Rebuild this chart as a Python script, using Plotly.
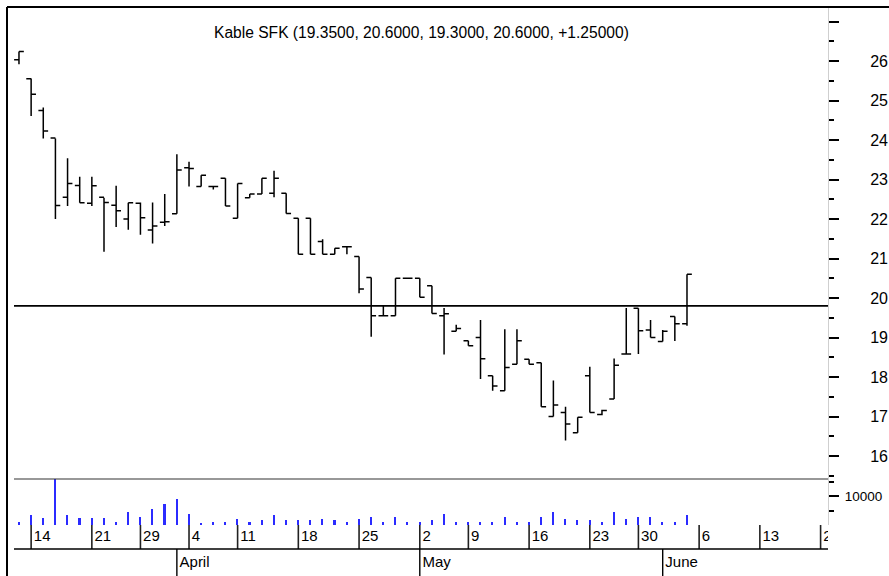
import plotly.graph_objects as go

# ---------------- data ----------------
bar_index = list(range(56))  # trading days 11 Mar .. 3 Jun
open_ = [26.03, 25.55, 24.75, 24.05, 22.55, 22.85, 22.40, 22.55, 22.35, 22.00,
         22.40, 21.72, 21.92, 22.13, 23.30, 22.82, 22.82, 23.03, 22.02, 22.54,
         22.63, 22.65, 22.65, 22.02, 22.02, 21.43, 21.11, 21.30, 21.05, 20.52,
         19.55, 19.55, 20.50, 20.50, 20.31, 19.55, 19.16, 18.92, 19.00, 18.03,
         17.65, 18.32, 18.45, 18.36, 17.00, 17.10, 16.59, 18.03, 17.05, 17.44,
         18.58, 19.74, 19.19, 18.90, 19.53, 19.35]
high = [26.24, 25.56, 24.82, 24.04, 23.54, 23.07, 23.07, 22.54, 22.84, 22.41,
        22.42, 22.42, 22.63, 23.64, 23.45, 23.11, 22.82, 23.03, 22.90, 22.63,
        23.03, 23.22, 22.65, 22.02, 22.02, 21.49, 21.26, 21.30, 21.05, 20.52,
        19.82, 20.50, 20.50, 20.50, 20.31, 19.75, 19.32, 18.92, 19.44, 18.03,
        19.21, 19.21, 18.45, 18.36, 17.91, 17.25, 16.98, 18.26, 17.17, 18.47,
        19.75, 19.74, 19.44, 19.19, 19.53, 20.60]
low = [25.92, 24.61, 24.04, 22.00, 22.33, 22.41, 22.33, 21.17, 21.80, 21.73,
       21.60, 21.38, 21.82, 22.13, 22.82, 22.82, 22.75, 22.33, 22.02, 22.54,
       22.63, 22.55, 22.14, 21.11, 21.11, 21.11, 21.11, 21.11, 20.12, 19.02,
       19.55, 19.55, 20.50, 20.02, 19.61, 18.57, 19.16, 18.79, 17.95, 17.65,
       17.65, 18.32, 18.32, 17.25, 17.00, 16.39, 16.59, 17.10, 17.03, 17.44,
       18.58, 18.58, 19.00, 18.90, 18.91, 19.30]
close = [26.24, 25.16, 24.23, 22.34, 22.90, 22.41, 22.84, 22.42, 22.21, 22.41,
         22.03, 21.82, 21.93, 23.24, 23.28, 23.11, 22.82, 22.33, 22.90, 22.63,
         23.03, 23.03, 22.14, 21.11, 21.11, 21.11, 21.26, 21.30, 20.23, 19.55,
         19.55, 20.50, 20.50, 20.02, 19.61, 19.60, 19.23, 18.79, 18.46, 17.77,
         18.24, 18.92, 18.32, 17.25, 17.29, 16.81, 16.98, 17.10, 17.15, 18.30,
         18.58, 19.17, 19.00, 19.16, 19.35, 20.60]
volume = [1200, 3300, 2300, 15700, 3300, 2300, 2300, 2300, 1200, 4500,
          2600, 5500, 7200, 8800, 3800, 600, 1200, 1200, 2200, 1200,
          1700, 3300, 1700, 1700, 1700, 2200, 1700, 1200, 2200, 2600,
          1200, 2600, 1200, 1200, 1700, 3800, 1200, 1200, 1200, 1200,
          2600, 1200, 1200, 2600, 4500, 2200, 1700, 1700, 1200, 4500,
          2200, 2600, 2600, 1200, 1200, 3300]
ref_level = 19.8

day_tick_idx = [1, 6, 10, 14, 18, 23, 28, 33, 37, 42, 47, 51, 56, 61, 66]
day_tick_labels = ["14", "21", "29", "4", "11", "18", "25", "2", "9", "16",
                   "23", "30", "6", "13", "20"]
month_tick_idx = [13, 33, 53]
month_labels = ["April", "May", "June"]

price_tickvals = [16, 17, 18, 19, 20, 21, 22, 23, 24, 25, 26, 27]
price_ticktext = ["16", "17", "18", "19", "20", "21", "22", "23", "24", "25", "26", ""]
price_minor = [15.5, 16.5, 17.5, 18.5, 19.5, 20.5, 21.5, 22.5, 23.5, 24.5, 25.5, 26.5]
vol_tickvals = [10000]
vol_minor = [5000, 15000]

title_text = "Kable SFK (19.3500, 20.6000, 19.3000, 20.6000, +1.25000)"

# ---------------- geometry ----------------
W, H = 889, 576
ML, MR = 14, 61
PW = W - ML - MR
def py(p):  # pixel row -> paper y
    return 1 - p / H
def px(p):  # pixel column -> paper x
    return (p - ML) / PW

FONT = "Liberation Sans, Arial, sans-serif"
LABEL_PAD = 0.22  # gap between a date tick line and its label, in bar units

fig = go.Figure()

fig.add_trace(go.Ohlc(
    x=bar_index, open=open_, high=high, low=low, close=close,
    increasing=dict(line=dict(color="black", width=1.5)),
    decreasing=dict(line=dict(color="black", width=1.5)),
    tickwidth=0.4, xaxis="x", yaxis="y", hoverinfo="skip"))

fig.add_trace(go.Bar(
    x=bar_index, y=volume, width=0.13,
    marker=dict(color="#2b2bff", line=dict(width=0)),
    xaxis="x", yaxis="y2", hoverinfo="skip"))

# date band: tick lines
dx, dy = [], []
for i in day_tick_idx:
    dx += [i, i, None]
    dy += [51, 27, None]
fig.add_trace(go.Scatter(x=dx, y=dy, mode="lines", line=dict(color="#222", width=1.6),
                         xaxis="x", yaxis="y3", hoverinfo="skip"))
mx, my = [], []
for i in month_tick_idx:
    mx += [i, i, None]
    my += [27, 0, None]
fig.add_trace(go.Scatter(x=mx, y=my, mode="lines", line=dict(color="black", width=1.4),
                         xaxis="x", yaxis="y3", hoverinfo="skip"))
fig.add_trace(go.Scatter(x=[i + LABEL_PAD for i in day_tick_idx], y=[39] * len(day_tick_idx),
                         mode="text", text=day_tick_labels, textposition="middle right",
                         textfont=dict(family=FONT, size=15, color="black"),
                         cliponaxis=True, xaxis="x", yaxis="y3", hoverinfo="skip"))
fig.add_trace(go.Scatter(x=[i + LABEL_PAD for i in month_tick_idx], y=[13] * len(month_tick_idx),
                         mode="text", text=month_labels, textposition="middle right",
                         textfont=dict(family=FONT, size=15, color="black"),
                         cliponaxis=True, xaxis="x", yaxis="y3", hoverinfo="skip"))

# price axis mapping: 26 at px 61, 39.5 px per unit
top_px, sep_px, base_px = 8, 479, 525
p_top = 26 + (61 - top_px) / 39.5
p_bot = 26 - (sep_px - 61) / 39.5
v_top = (base_px - sep_px) / 0.0029

shapes = [
    dict(type="line", xref="paper", yref="y", x0=0, x1=1, y0=ref_level, y1=ref_level,
         line=dict(color="black", width=1.8)),
    dict(type="line", xref="paper", yref="paper", x0=0, x1=1, y0=py(sep_px), y1=py(sep_px),
         line=dict(color="#333", width=1.2)),
    dict(type="line", xref="paper", yref="paper", x0=0, x1=1, y0=py(549), y1=py(549),
         line=dict(color="black", width=1.6)),
    dict(type="line", xref="paper", yref="paper", x0=px(7), x1=px(7), y0=0, y1=py(7),
         line=dict(color="black", width=2)),
    dict(type="line", xref="paper", yref="paper", x0=px(7), x1=px(W), y0=py(7), y1=py(7),
         line=dict(color="black", width=2)),
]

fig.update_layout(
    width=W, height=H, autosize=False,
    margin=dict(l=ML, r=MR, t=0, b=0, pad=0),
    paper_bgcolor="white", plot_bgcolor="white",
    showlegend=False, bargap=0,
    font=dict(family=FONT, size=15, color="black"),
    xaxis=dict(domain=[0, 1], range=[-0.41, 66.61], anchor="y3",
               showticklabels=False, ticks="", showgrid=False, zeroline=False,
               showline=False, rangeslider=dict(visible=False), fixedrange=True),
    yaxis=dict(domain=[py(sep_px), py(top_px)], range=[p_bot, p_top], anchor="x",
               side="right", showgrid=False, zeroline=False,
               showline=True, linecolor="#cfcfcf", linewidth=1,
               tickmode="array", tickvals=price_tickvals, ticktext=price_ticktext,
               ticks="outside", ticklen=10, tickwidth=1.5, tickcolor="black",
               ticklabelstandoff=28,
               minor=dict(tickmode="array", tickvals=price_minor, ticks="outside",
                          ticklen=5, tickwidth=1.5, tickcolor="black"),
               tickfont=dict(family=FONT, size=16, color="black")),
    yaxis2=dict(domain=[py(base_px), py(sep_px)], range=[0, v_top], anchor="x",
                side="right", showgrid=False, zeroline=False,
                showline=True, linecolor="#cfcfcf", linewidth=1,
                tickmode="array", tickvals=vol_tickvals, ticktext=["10000"],
                ticks="outside", ticklen=10, tickwidth=1.5, tickcolor="black",
                ticklabelstandoff=3,
                minor=dict(tickmode="array", tickvals=vol_minor, ticks="outside",
                           ticklen=5, tickwidth=1.5, tickcolor="black"),
                tickfont=dict(family=FONT, size=13.5, color="black")),
    yaxis3=dict(domain=[0, py(base_px)], range=[0, 51], anchor="x", visible=False,
                fixedrange=True),
    shapes=shapes,
    annotations=[dict(text=title_text, xref="paper", yref="paper", x=0.5, y=py(32),
                      xanchor="center", yanchor="middle", showarrow=False,
                      font=dict(family=FONT, size=15.6, color="black"))],
)

fig.write_html("out.html", config={"displayModeBar": False})

# remove the browser's default page margin so the figure sits at the window origin
with open("out.html", "r", encoding="utf-8") as f:
    html = f.read()
html = html.replace("<head>", "<head><style>html,body{margin:0;padding:0;overflow:hidden;}</style>", 1)
with open("out.html", "w", encoding="utf-8") as f:
    f.write(html)
